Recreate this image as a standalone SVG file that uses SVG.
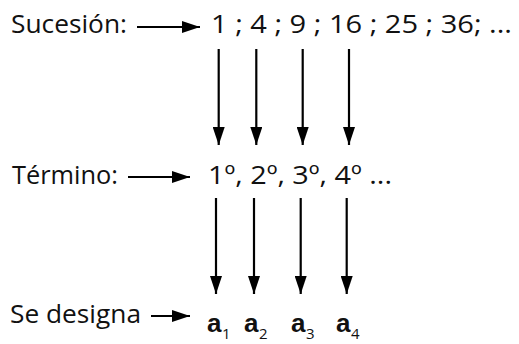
<svg xmlns="http://www.w3.org/2000/svg" width="519" height="344" viewBox="0 0 519 344">
<style>
.t{font-family:"Open Sans","Liberation Sans",sans-serif;font-size:26px;fill:#111}
.a{font-family:"Liberation Sans","DejaVu Sans",sans-serif;font-weight:bold;font-size:26px;fill:#111}
.s{font-family:"Open Sans","Liberation Sans",sans-serif;font-size:15px;fill:#111}
.c{stroke:#000;stroke-width:2.2;fill:none;marker-end:url(#ah)}
</style>
<defs>
<marker id="ah" viewBox="0 0 18 12" refX="18" refY="6" markerWidth="18" markerHeight="12" markerUnits="userSpaceOnUse" orient="auto">
<path d="M0,0 L18,6 L0,12 z" fill="#000"/>
</marker>
</defs>
<rect width="519" height="344" fill="#fff"/>
<g id="label-sucesion"><text class="t" x="11" y="33" textLength="116" lengthAdjust="spacingAndGlyphs">Sucesión:</text></g>
<g id="sucesion"><text class="t" x="211" y="33" textLength="301" lengthAdjust="spacingAndGlyphs">1 ; 4 ; 9 ; 16 ; 25 ; 36; ...</text></g>
<g id="label-termino"><text class="t" x="12" y="184" textLength="106" lengthAdjust="spacingAndGlyphs">Término:</text></g>
<g id="termino"><text class="t" x="208" y="184" textLength="184" lengthAdjust="spacingAndGlyphs">1º, 2º, 3º, 4º ...</text></g>
<g id="label-designa"><text class="t" x="10" y="323" textLength="131" lengthAdjust="spacingAndGlyphs">Se designa</text></g>
<g id="designa">
<text class="a" x="207" y="332">a</text><text class="s" x="222" y="339">1</text>
<text class="a" x="244" y="332">a</text><text class="s" x="259" y="339">2</text>
<text class="a" x="291" y="332">a</text><text class="s" x="306" y="339">3</text>
<text class="a" x="336" y="332">a</text><text class="s" x="351" y="339">4</text>
</g>
<g id="connectors">
<line class="c" x1="137" y1="27" x2="200" y2="27"/>
<line class="c" x1="128" y1="177" x2="190" y2="177"/>
<line class="c" x1="151" y1="316" x2="190" y2="316"/>
<line class="c" x1="218.7" y1="49" x2="218.7" y2="145"/>
<line class="c" x1="256.3" y1="49" x2="256.3" y2="145"/>
<line class="c" x1="302.7" y1="49" x2="302.7" y2="145"/>
<line class="c" x1="349" y1="49" x2="349" y2="145"/>
<line class="c" x1="216" y1="198" x2="216" y2="294"/>
<line class="c" x1="254" y1="198" x2="254" y2="294"/>
<line class="c" x1="300.7" y1="198" x2="300.7" y2="294"/>
<line class="c" x1="346.7" y1="198" x2="346.7" y2="294"/>
</g>
</svg>
